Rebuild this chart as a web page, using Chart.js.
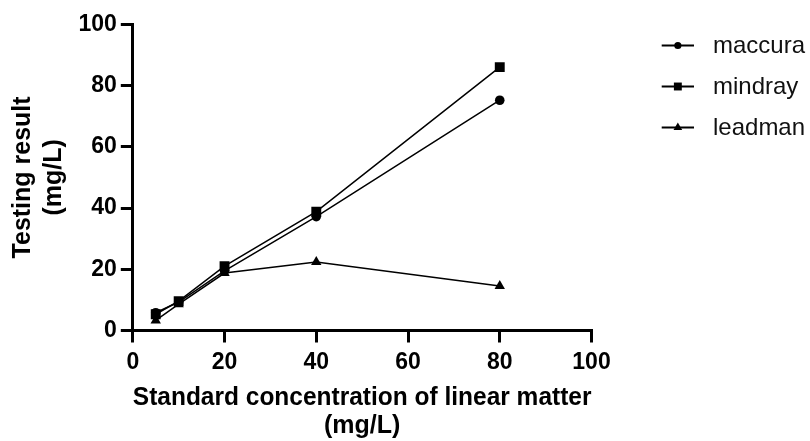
<!DOCTYPE html>
<html>
<head>
<meta charset="utf-8">
<script src="https://cdn.jsdelivr.net/npm/chart.js@4"></script>
<style>
  html, body { margin: 0; padding: 0; background: #ffffff; }
  #wrap { position: relative; width: 810px; height: 441px; }
</style>
</head>
<body>
<div id="wrap"><canvas id="c"></canvas></div>
<script>
// ---- data ----
const concentrations = [5, 10, 20, 40, 80];
const maccura = [5.8, 9.3, 19.5, 37.2, 75.2];
const mindray = [5.3, 9.6, 21.0, 38.8, 86.0];
const leadman = [3.3, 8.6, 18.75, 22.4, 14.5];
const seriesNames = ['maccura', 'mindray', 'leadman'];
const xTicks = [0, 20, 40, 60, 80, 100];
const yTicks = [0, 20, 40, 60, 80, 100];
const xTitle = ['Standard concentration of linear matter', '(mg/L)'];
const yTitle = ['Testing result', '(mg/L)'];

const FONT = '"Liberation Sans", Arial, Helvetica, sans-serif';

function toPoints(vals) {
  return concentrations.map((x, i) => ({ x: x, y: vals[i] }));
}

const styles = [
  { pointStyle: 'circle', radius: 4.8, legendRadius: 3.6 },
  { pointStyle: 'rect', radius: 7.0, legendRadius: 5.6 },
  { pointStyle: 'triangle', radius: 6.0, legendRadius: 5.0 }
];

const seriesValues = [maccura, mindray, leadman];

const datasets = seriesNames.map((name, i) => ({
  label: name,
  data: toPoints(seriesValues[i]),
  borderColor: '#000000',
  backgroundColor: '#000000',
  borderWidth: 1.5,
  pointStyle: styles[i].pointStyle,
  pointRadius: styles[i].radius,
  pointBackgroundColor: '#000000',
  pointBorderColor: '#000000',
  pointBorderWidth: 0,
  fill: false,
  tension: 0
}));

const legendPlugin = {
  id: 'sideLegend',
  afterDraw(chart) {
    const ctx = chart.ctx;
    const x0 = 661.7, x1 = 694, xm = (x0 + x1) / 2;
    const textX = 713;
    ctx.save();
    chart.data.datasets.forEach((ds, i) => {
      const y = 45.5 + 41 * i;
      ctx.strokeStyle = '#000000';
      ctx.lineWidth = 2;
      ctx.beginPath();
      ctx.moveTo(x0, y);
      ctx.lineTo(x1, y);
      ctx.stroke();
      ctx.fillStyle = '#000000';
      ctx.strokeStyle = '#000000';
      Chart.helpers.drawPoint(ctx, {
        pointStyle: styles[i].pointStyle,
        radius: styles[i].legendRadius,
        borderWidth: 0,
        rotation: 0
      }, xm, y);
      ctx.fillStyle = '#111111';
      ctx.font = '24px ' + FONT;
      ctx.textAlign = 'left';
      ctx.textBaseline = 'middle';
      ctx.fillText(ds.label, textX, y + 1);
    });
    ctx.restore();
  }
};

const axisCommon = {
  type: 'linear',
  min: 0,
  max: 100,
  border: { display: true, color: '#000000', width: 3 },
  grid: {
    display: true,
    drawOnChartArea: false,
    drawTicks: true,
    tickLength: 12,
    lineWidth: 3,
    color: '#000000',
    tickColor: '#000000'
  }
};

new Chart(document.getElementById('c'), {
  type: 'line',
  data: { datasets: datasets },
  plugins: [legendPlugin],
  options: {
    responsive: true,
    maintainAspectRatio: false,
    animation: false,
    layout: { padding: { top: 24.3, right: 218.5, bottom: 0, left: 0 } },
    plugins: {
      legend: { display: false },
      tooltip: { enabled: false }
    },
    scales: {
      x: Object.assign({}, axisCommon, {
        position: 'bottom',
        afterBuildTicks(scale) { scale.ticks = xTicks.map(v => ({ value: v })); },
        afterFit(scale) { scale.height = 441 - 330.5; },
        ticks: {
          color: '#000000',
          padding: 6,
          maxRotation: 0,
          autoSkip: false,
          font: { family: FONT, size: 23, weight: 'bold' }
        },
        title: {
          display: true,
          text: xTitle,
          color: '#000000',
          padding: { top: 0, bottom: 0.5 },
          font: { family: FONT, size: 25, weight: 'bold', lineHeight: 1.13 }
        }
      }),
      y: Object.assign({}, axisCommon, {
        position: 'left',
        afterBuildTicks(scale) { scale.ticks = yTicks.map(v => ({ value: v })); },
        afterFit(scale) { scale.width = 132.8; },
        ticks: {
          color: '#000000',
          padding: 4,
          autoSkip: false,
          font: { family: FONT, size: 23, weight: 'bold' }
        },
        title: {
          display: true,
          text: yTitle,
          color: '#000000',
          padding: { top: 7.25, bottom: 0 },
          font: { family: FONT, size: 25, weight: 'bold', lineHeight: 1.26 }
        }
      })
    }
  }
});
</script>
</body>
</html>
